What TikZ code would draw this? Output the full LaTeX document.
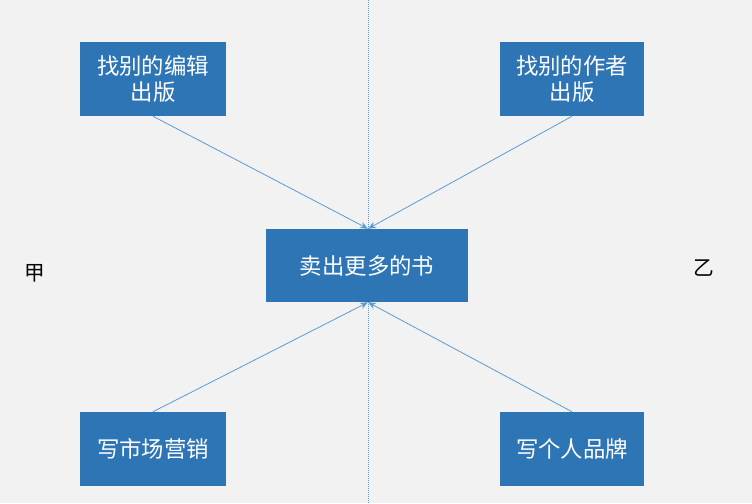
\documentclass[tikz,border=0pt]{standalone}
\usepackage{fontspec}
\setmainfont{Noto Sans CJK SC}
\usetikzlibrary{arrows.meta}
\definecolor{bg}{HTML}{F2F2F2}
\definecolor{boxblue}{HTML}{2E75B6}
\definecolor{arrowblue}{HTML}{5B9BD5}
\tikzset{
  bluebox/.style={fill=boxblue, draw=none, text=white, align=center, inner sep=0pt,
    font=\fontsize{16.8}{20}\selectfont},
  conn/.style={draw=arrowblue, line width=0.6pt, -{Stealth[length=6pt,width=5pt]}},
}
\begin{document}
\begin{tikzpicture}[x=0.75pt,y=-0.75pt]
\fill[bg] (0,0) rectangle (752,503);
\useasboundingbox (0,0) rectangle (752,503);
\coordinate (ltop) at (368,0);
\coordinate (lbot) at (368,503);
\draw[arrowblue, densely dotted, line width=0.5pt] (ltop) -- (lbot);
\node[bluebox, minimum width=146*0.75pt, minimum height=74*0.75pt] (tl) at (153,79) {找别的编辑\\出版};
\node[bluebox, minimum width=144*0.75pt, minimum height=74*0.75pt] (tr) at (572,79) {找别的作者\\出版};
\node[bluebox, minimum width=202*0.75pt, minimum height=73*0.75pt] (c) at (367,265.5) {卖出更多的书};
\node[bluebox, minimum width=146*0.75pt, minimum height=74*0.75pt] (bl) at (153,449) {写市场营销};
\node[bluebox, minimum width=144*0.75pt, minimum height=74*0.75pt] (br) at (572,449) {写个人品牌};
\node[font=\fontsize{15.5}{18}\selectfont] (jia) at (35,273) {甲};
\node[font=\fontsize{15.5}{18}\selectfont] (yi) at (704,268) {乙};
\draw[conn] (tl.south) -- ([xshift=0.75pt]c.north);
\draw[conn] (tr.south) -- ([xshift=0.75pt]c.north);
\draw[conn] (bl.north) -- ([xshift=0.75pt]c.south);
\draw[conn] (br.north) -- ([xshift=0.75pt]c.south);
\end{tikzpicture}
\end{document}
